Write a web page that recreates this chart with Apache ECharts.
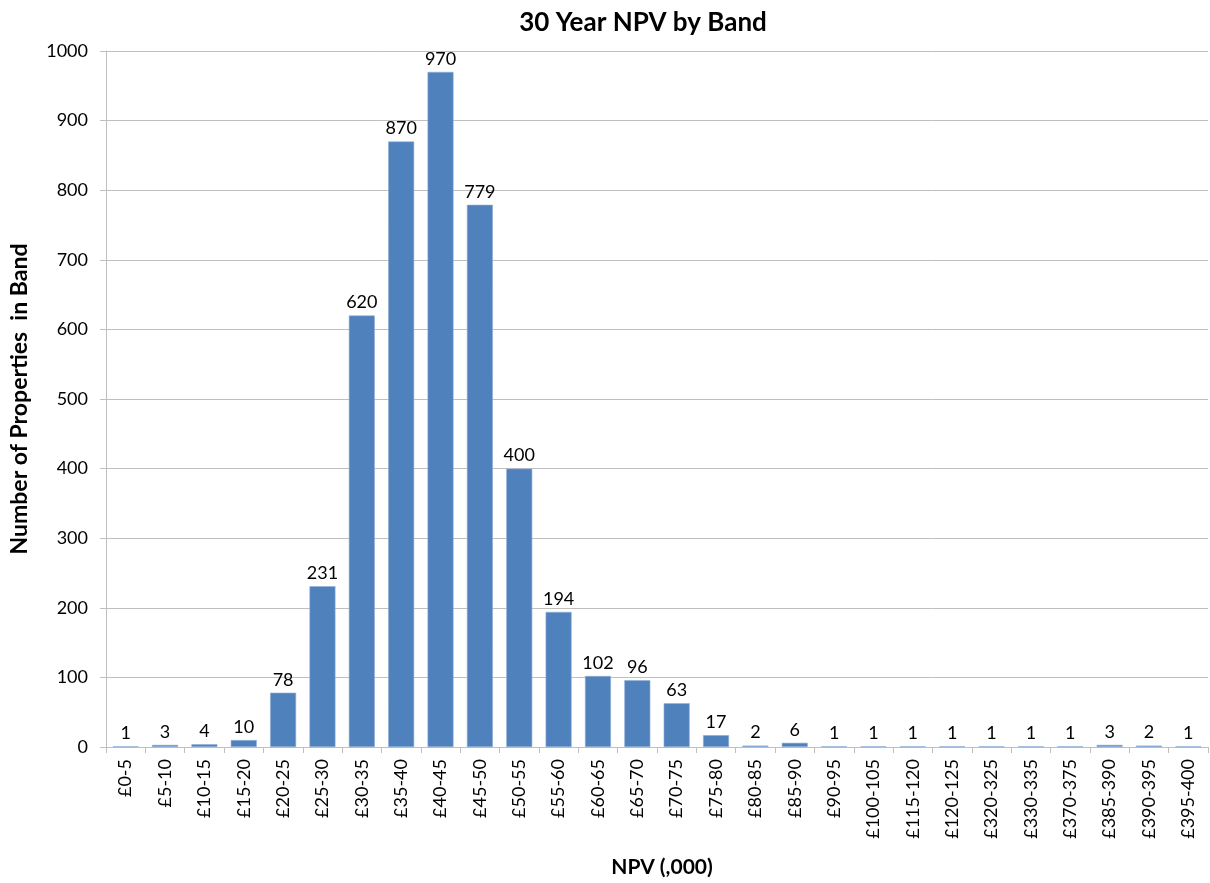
<!DOCTYPE html>
<html>
<head>
<meta charset="utf-8">
<title>30 Year NPV by Band</title>
<script src="https://cdn.jsdelivr.net/npm/echarts@6/dist/echarts.min.js"></script>
<style>
  html, body { margin: 0; padding: 0; background: #ffffff; }
  #chart { width: 1210px; height: 883px; }
</style>
</head>
<body>
<div id="chart"></div>
<script>
// NPV bands (in £ thousands) and the number of properties falling in each
const bands = [
  '£0-5', '£5-10', '£10-15', '£15-20', '£20-25', '£25-30', '£30-35', '£35-40',
  '£40-45', '£45-50', '£50-55', '£55-60', '£60-65', '£65-70', '£70-75', '£75-80',
  '£80-85', '£85-90', '£90-95', '£100-105', '£115-120', '£120-125', '£320-325',
  '£330-335', '£370-375', '£385-390', '£390-395', '£395-400'
];
const propertyCounts = [
  1, 3, 4, 10, 78, 231, 620, 870,
  970, 779, 400, 194, 102, 96, 63, 17,
  2, 6, 1, 1, 1, 1, 1,
  1, 1, 3, 2, 1
];
const yTicks = { min: 0, max: 1000, step: 100 };

const FONT = 'Lato, "Open Sans", "Liberation Sans", sans-serif';
const GRID_GREY = '#bfbfbf';

const chart = echarts.init(document.getElementById('chart'), null, { renderer: 'canvas' });

chart.setOption({
  animation: false,
  backgroundColor: '#ffffff',
  title: {
    text: '30 Year NPV by Band',
    left: 638,
    textAlign: 'center',
    top: 5,
    textStyle: { fontFamily: FONT, fontSize: 26, fontWeight: 'bold', color: '#000000' }
  },
  grid: { left: 105, right: 2, top: 51, bottom: 131, containLabel: false },
  xAxis: {
    type: 'category',
    data: bands,
    name: 'NPV (,000)',
    nameLocation: 'middle',
    nameGap: 110,
    nameTextStyle: {
      fontFamily: FONT, fontSize: 21, fontWeight: 'bold', color: '#000000',
      padding: [0, 0, 0, 10]
    },
    axisLine: { show: true, lineStyle: { color: GRID_GREY, width: 1 } },
    axisTick: { show: true, length: 6, alignWithLabel: false, lineStyle: { color: GRID_GREY } },
    axisLabel: {
      interval: 0,
      rotate: 90,
      margin: 12,
      fontFamily: FONT,
      fontSize: 18,
      color: '#000000'
    },
    splitLine: { show: false }
  },
  yAxis: {
    type: 'value',
    min: yTicks.min,
    max: yTicks.max,
    interval: yTicks.step,
    name: 'Number of Properties  in Band',
    nameLocation: 'middle',
    nameGap: 75,
    nameRotate: 90,
    nameTextStyle: { fontFamily: FONT, fontSize: 23, fontWeight: 'bold', color: '#000000' },
    axisLine: { show: true, lineStyle: { color: GRID_GREY, width: 1 } },
    axisTick: { show: true, length: 6, lineStyle: { color: GRID_GREY } },
    axisLabel: {
      margin: 18,
      fontFamily: FONT,
      fontSize: 18,
      color: '#000000',
      formatter: (v) => String(v)
    },
    splitLine: { show: true, lineStyle: { color: GRID_GREY, width: 1 } }
  },
  series: [{
    type: 'bar',
    data: propertyCounts,
    barCategoryGap: '34%',
    itemStyle: { color: '#4f81bd', borderColor: '#8eaed6', borderWidth: 0.6 },
    label: {
      show: true,
      position: 'top',
      distance: 4,
      fontFamily: FONT,
      fontSize: 18,
      color: '#000000'
    }
  }]
});
</script>
</body>
</html>
